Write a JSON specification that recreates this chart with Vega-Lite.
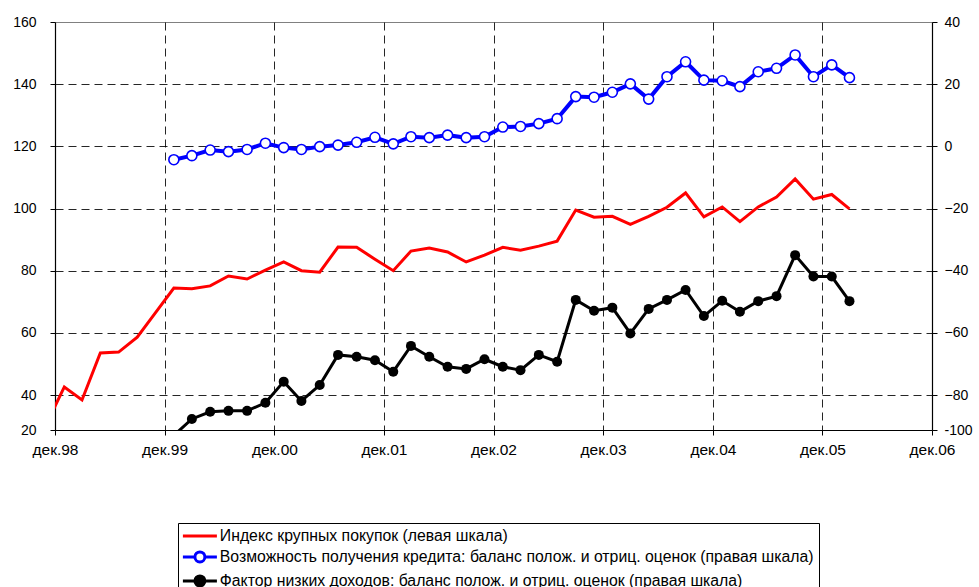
{
  "$schema": "https://vega.github.io/schema/vega-lite/v6.json",
  "width": 877,
  "height": 408,
  "autosize": {"type": "none"},
  "padding": {"left": 55, "top": 22, "right": 47, "bottom": 157},
  "background": "white",
  "config": {
    "font": "Liberation Sans",
    "view": {"stroke": "#808080", "strokeWidth": 1},
    "axis": {"labelFont": "Liberation Sans", "labelFontSize": 14, "labelColor": "#000", "domainColor": "#000", "domainWidth": 1.2, "tickColor": "#000", "tickSize": 5, "labelPadding": 4, "title": null}
  },
  "datasets": {
    "idx": [
      {"d": "1998-11-01", "v": 30.3}, {"d": "1999-01-01", "v": 42.6}, {"d": "1999-03-01", "v": 38.4}, {"d": "1999-05-01", "v": 53.5},
      {"d": "1999-07-01", "v": 53.8}, {"d": "1999-09-01", "v": 58.6}, {"d": "1999-11-01", "v": 66.5}, {"d": "2000-01-01", "v": 74.4},
      {"d": "2000-03-01", "v": 74.2}, {"d": "2000-05-01", "v": 75.1}, {"d": "2000-07-01", "v": 78.3}, {"d": "2000-09-01", "v": 77.3},
      {"d": "2000-11-01", "v": 80.2}, {"d": "2001-01-01", "v": 82.8}, {"d": "2001-03-01", "v": 80.0}, {"d": "2001-05-01", "v": 79.5},
      {"d": "2001-07-01", "v": 87.6}, {"d": "2001-09-01", "v": 87.5}, {"d": "2001-11-01", "v": 83.7}, {"d": "2002-01-01", "v": 80.0},
      {"d": "2002-03-01", "v": 86.3}, {"d": "2002-05-01", "v": 87.3}, {"d": "2002-07-01", "v": 86.0}, {"d": "2002-09-01", "v": 82.8},
      {"d": "2002-11-01", "v": 85.0}, {"d": "2003-01-01", "v": 87.5}, {"d": "2003-03-01", "v": 86.6}, {"d": "2003-05-01", "v": 87.9},
      {"d": "2003-07-01", "v": 89.5}, {"d": "2003-09-01", "v": 99.5}, {"d": "2003-11-01", "v": 97.2}, {"d": "2004-01-01", "v": 97.5},
      {"d": "2004-03-01", "v": 94.9}, {"d": "2004-05-01", "v": 97.5}, {"d": "2004-07-01", "v": 100.4}, {"d": "2004-09-01", "v": 105.0},
      {"d": "2004-11-01", "v": 97.3}, {"d": "2005-01-01", "v": 100.5}, {"d": "2005-03-01", "v": 95.8}, {"d": "2005-05-01", "v": 100.5},
      {"d": "2005-07-01", "v": 103.7}, {"d": "2005-09-01", "v": 109.5}, {"d": "2005-11-01", "v": 103.0}, {"d": "2006-01-01", "v": 104.5},
      {"d": "2006-03-01", "v": 99.9}
    ],
    "cred": [
      {"d": "2000-01-01", "v": -4.3}, {"d": "2000-03-01", "v": -3.0}, {"d": "2000-05-01", "v": -1.2}, {"d": "2000-07-01", "v": -1.7},
      {"d": "2000-09-01", "v": -1.0}, {"d": "2000-11-01", "v": 1.0}, {"d": "2001-01-01", "v": -0.4}, {"d": "2001-03-01", "v": -1.0},
      {"d": "2001-05-01", "v": -0.1}, {"d": "2001-07-01", "v": 0.4}, {"d": "2001-09-01", "v": 1.3}, {"d": "2001-11-01", "v": 2.9},
      {"d": "2002-01-01", "v": 0.8}, {"d": "2002-03-01", "v": 3.1}, {"d": "2002-05-01", "v": 2.8}, {"d": "2002-07-01", "v": 3.6},
      {"d": "2002-09-01", "v": 2.8}, {"d": "2002-11-01", "v": 3.1}, {"d": "2003-01-01", "v": 6.2}, {"d": "2003-03-01", "v": 6.4},
      {"d": "2003-05-01", "v": 7.3}, {"d": "2003-07-01", "v": 8.9}, {"d": "2003-09-01", "v": 16.0}, {"d": "2003-11-01", "v": 15.8},
      {"d": "2004-01-01", "v": 17.4}, {"d": "2004-03-01", "v": 20.1}, {"d": "2004-05-01", "v": 15.2}, {"d": "2004-07-01", "v": 22.4},
      {"d": "2004-09-01", "v": 27.2}, {"d": "2004-11-01", "v": 21.3}, {"d": "2005-01-01", "v": 21.1}, {"d": "2005-03-01", "v": 19.2},
      {"d": "2005-05-01", "v": 24.0}, {"d": "2005-07-01", "v": 25.1}, {"d": "2005-09-01", "v": 29.4}, {"d": "2005-11-01", "v": 22.4},
      {"d": "2006-01-01", "v": 26.2}, {"d": "2006-03-01", "v": 22.1}
    ],
    "inc": [
      {"d": "2000-01-01", "v": -93.0}, {"d": "2000-03-01", "v": -87.7}, {"d": "2000-05-01", "v": -85.4}, {"d": "2000-07-01", "v": -85.1},
      {"d": "2000-09-01", "v": -85.1}, {"d": "2000-11-01", "v": -82.5}, {"d": "2001-01-01", "v": -75.7}, {"d": "2001-03-01", "v": -81.9},
      {"d": "2001-05-01", "v": -76.8}, {"d": "2001-07-01", "v": -67.1}, {"d": "2001-09-01", "v": -67.7}, {"d": "2001-11-01", "v": -68.8},
      {"d": "2002-01-01", "v": -72.5}, {"d": "2002-03-01", "v": -64.2}, {"d": "2002-05-01", "v": -67.7}, {"d": "2002-07-01", "v": -70.9},
      {"d": "2002-09-01", "v": -71.6}, {"d": "2002-11-01", "v": -68.5}, {"d": "2003-01-01", "v": -70.9}, {"d": "2003-03-01", "v": -72.0},
      {"d": "2003-05-01", "v": -67.1}, {"d": "2003-07-01", "v": -69.3}, {"d": "2003-09-01", "v": -49.4}, {"d": "2003-11-01", "v": -52.9},
      {"d": "2004-01-01", "v": -51.9}, {"d": "2004-03-01", "v": -60.2}, {"d": "2004-05-01", "v": -52.3}, {"d": "2004-07-01", "v": -49.4},
      {"d": "2004-09-01", "v": -46.2}, {"d": "2004-11-01", "v": -54.6}, {"d": "2005-01-01", "v": -49.7}, {"d": "2005-03-01", "v": -53.2},
      {"d": "2005-05-01", "v": -49.8}, {"d": "2005-07-01", "v": -48.2}, {"d": "2005-09-01", "v": -35.0}, {"d": "2005-11-01", "v": -41.9},
      {"d": "2006-01-01", "v": -41.9}, {"d": "2006-03-01", "v": -49.8}
    ]
  },
  "encoding": {
    "x": {
      "field": "d", "type": "temporal",
      "scale": {"type": "utc", "domain": [{"year": 1998, "month": 12, "date": 1, "utc": true}, {"year": 2006, "month": 12, "date": 1, "utc": true}]},
      "axis": {
        "values": [
          {"year": 1998, "month": 12, "date": 1, "utc": true}, {"year": 1999, "month": 12, "date": 1, "utc": true},
          {"year": 2000, "month": 12, "date": 1, "utc": true}, {"year": 2001, "month": 12, "date": 1, "utc": true},
          {"year": 2002, "month": 12, "date": 1, "utc": true}, {"year": 2003, "month": 12, "date": 1, "utc": true},
          {"year": 2004, "month": 12, "date": 1, "utc": true}, {"year": 2005, "month": 12, "date": 1, "utc": true},
          {"year": 2006, "month": 12, "date": 1, "utc": true}
        ],
        "labelExpr": "'дек.' + utcFormat(datum.value, '%y')",
        "labelFontSize": 15.5,
        "labelPadding": 7,
        "labelFlush": false,
        "labelOverlap": false,
        "grid": true,
        "gridColor": "#000",
        "gridDash": [8, 5],
        "gridOpacity": {"condition": {"test": "utcyear(datum.value) == 1998 || utcyear(datum.value) == 2006", "value": 0}, "value": 0.85}
      }
    }
  },
  "layer": [
    {
      "data": {"name": "idx"},
      "mark": {"type": "line", "color": "#ff0000", "strokeWidth": 3, "clip": true},
      "encoding": {
        "y": {
          "field": "v", "type": "quantitative",
          "scale": {"domain": [28.74, 160], "nice": false, "zero": false},
          "axis": {
            "orient": "left",
            "values": [28.74, 40, 60, 80, 100, 120, 140, 160],
            "labelExpr": "datum.value < 30 ? '20' : datum.label",
            "labelPadding": 14,
            "grid": true,
            "gridColor": "#000",
            "gridDash": [8, 5],
            "gridOpacity": {"condition": {"test": "datum.value > 150 || datum.value < 30", "value": 0}, "value": 0.85}
          }
        },
        "color": {
          "datum": "Индекс крупных покупок (левая шкала)",
          "type": "nominal",
          "scale": {
            "domain": ["Индекс крупных покупок (левая шкала)", "Возможность получения кредита: баланс полож. и отриц. оценок (правая шкала)", "Фактор низких доходов: баланс полож. и отриц. оценок (правая шкала)"],
            "range": ["#ff0000", "#0000ff", "#000000"]
          },
          "legend": {
            "title": null,
            "orient": "none",
            "legendX": 123,
            "legendY": 501,
            "direction": "vertical",
            "strokeColor": "#000",
            "fillColor": "white",
            "padding": 5,
            "rowPadding": 1,
            "symbolSize": 100,
            "symbolOffset": 9,
            "labelOffset": 12,
            "labelLimit": 1000,
            "labelFont": "Liberation Sans",
            "labelFontSize": 15.8,
            "labelColor": "#000",
            "encode": {
              "symbols": {
                "update": {
                  "shape": {"signal": "datum.index == 0 ? 'M-3.4,0H3.4' : 'M-3.4,0H-1M1,0H3.4M-1,0A1,1,0,1,1,1,0A1,1,0,1,1,-1,0'"},
                  "fill": {"signal": "datum.index == 0 ? 'transparent' : (datum.index == 1 ? 'white' : 'black')"},
                  "stroke": {"signal": "datum.index == 0 ? '#ff0000' : (datum.index == 1 ? '#0000ff' : '#000000')"},
                  "strokeWidth": {"value": 3},
                  "opacity": {"value": 1},
                  "fillOpacity": {"value": 1}
                }
              }
            }
          }
        }
      }
    },
    {
      "encoding": {
        "y": {
          "field": "v", "type": "quantitative",
          "scale": {"domain": [-91.26, 40], "nice": false, "zero": false},
          "axis": {
            "orient": "right",
            "values": [-91.26, -80, -60, -40, -20, 0, 20, 40],
            "labelExpr": "datum.value < -90 ? '-100' : datum.label",
            "labelPadding": 7,
            "grid": false
          }
        }
      },
      "layer": [
        {
          "data": {"name": "cred"},
          "mark": {"type": "line", "color": "#0000ff", "strokeWidth": 4, "clip": true},
          "encoding": {"color": {"datum": "Возможность получения кредита: баланс полож. и отриц. оценок (правая шкала)", "type": "nominal"}}
        },
        {
          "data": {"name": "cred"},
          "mark": {"type": "point", "shape": "circle", "filled": false, "fill": "white", "fillOpacity": 1, "stroke": "#0000ff", "strokeWidth": 1.6, "size": 100, "opacity": 1, "clip": true},
          "encoding": {}
        },
        {
          "data": {"name": "inc"},
          "mark": {"type": "line", "color": "#000000", "strokeWidth": 3, "clip": true},
          "encoding": {"color": {"datum": "Фактор низких доходов: баланс полож. и отриц. оценок (правая шкала)", "type": "nominal"}}
        },
        {
          "data": {"name": "inc"},
          "mark": {"type": "point", "shape": "circle", "filled": true, "color": "#000000", "size": 100, "opacity": 1, "clip": true},
          "encoding": {}
        }
      ]
    }
  ],
  "resolve": {"scale": {"y": "independent"}}
}
